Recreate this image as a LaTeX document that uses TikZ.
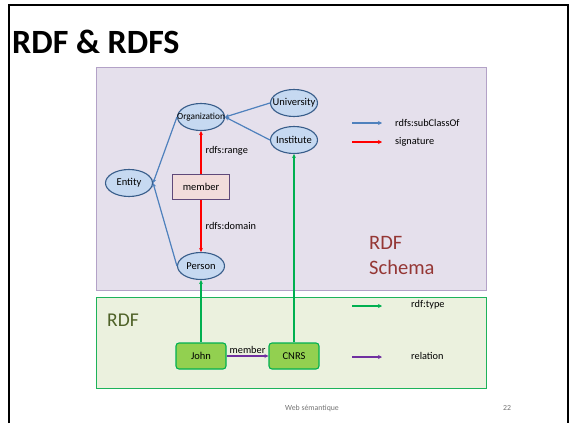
\documentclass[tikz,border=0pt]{standalone}
\usepackage{fontspec}
\setmainfont{Carlito}
\usetikzlibrary{arrows.meta,shapes.geometric}
\definecolor{schemafill}{HTML}{E5E0EC}
\definecolor{schemaline}{HTML}{B3A2C7}
\definecolor{rdffill}{HTML}{EBF1DE}
\definecolor{rdfline}{HTML}{1DB35A}
\definecolor{classfill}{HTML}{C6D9F1}
\definecolor{classline}{HTML}{385D8A}
\definecolor{propfill}{HTML}{F2DCDB}
\definecolor{propline}{HTML}{5F497A}
\definecolor{instfill}{HTML}{92D050}
\definecolor{instline}{HTML}{00B050}
\definecolor{subcl}{HTML}{4F81BD}
\definecolor{sig}{HTML}{FF0000}
\definecolor{typ}{HTML}{00B050}
\definecolor{rel}{HTML}{7030A0}
\definecolor{rdftext}{HTML}{4F6228}
\definecolor{schematext}{HTML}{953735}
\tikzset{
  cls/.style={ellipse, draw=classline, fill=classfill, line width=1.1pt,
    minimum width=47pt, minimum height=27pt, inner xsep=-8pt, inner ysep=0pt,
    font=\fontsize{10.5}{11}\selectfont},
  prop/.style={rectangle, draw=propline, fill=propfill, line width=1.1pt,
    minimum width=57pt, minimum height=25pt, inner sep=0pt, font=\fontsize{10.5}{11}\selectfont},
  inst/.style={rectangle, rounded corners=3pt, draw=instline, fill=instfill, line width=1.1pt,
    minimum width=50pt, minimum height=26pt, inner sep=0pt, font=\fontsize{10.5}{11}\selectfont},
  tip/.style={-{Stealth[length=4pt,width=4pt]}},
  subclass/.style={tip, draw=subcl, fill=subcl, line width=1.2pt},
  signat/.style={tip, draw=sig, fill=sig, line width=1.2pt},
  rdftype/.style={tip, draw=typ, fill=typ, line width=1.2pt},
  relation/.style={tip, draw=rel, fill=rel, line width=1.2pt},
  lbl/.style={font=\fontsize{10.3}{11}\selectfont, inner sep=0pt, anchor=west},
}
\begin{document}
\begin{tikzpicture}[x=1pt,y=-1pt]
\useasboundingbox (0,0) rectangle (570,423);
% slide frame
\draw[line width=2.5pt] (9,423) -- (9,5) -- (568,5) -- (568,423);
\node[anchor=west, font=\fontsize{34}{35}\selectfont\bfseries, inner sep=0pt] (title) at (12,42) {RDF \& RDFS};
% panels
\node[draw=schemaline, fill=schemafill, line width=1.2pt, minimum width=390pt, minimum height=223pt, inner sep=0pt, anchor=north west] (schema) at (96,67) {};
\node[draw=rdfline, fill=rdffill, line width=1.2pt, minimum width=390pt, minimum height=91pt, inner sep=0pt, anchor=north west] (rdf) at (96,297) {};
\node[anchor=west, text=rdftext, font=\fontsize{19.5}{20}\selectfont, inner sep=0pt] (rdflabel) at (107,320) {RDF};
\node[anchor=north west, text=schematext, font=\fontsize{20.5}{25}\selectfont, align=left, inner sep=0pt] (schemalabel) at (369,236) {RDF\\Schema};
% classes
\node[cls, font=\fontsize{9.3}{10}\selectfont] (org) at (201,117) {Organization};
\node[cls] (univ) at (294,103) {University};
\node[cls] (inst) at (294,140) {Institute};
\node[cls] (entity) at (129,183) {Entity};
\node[cls] (person) at (201,266) {Person};
\node[prop] (member) at (201,187) {member};
% instances
\node[inst] (john) at (201,356) {John};
\node[inst] (cnrs) at (294,356) {CNRS};
% subclass links
\draw[subclass] (univ.west) -- (org.east);
\draw[subclass] (inst.west) -- (org.east);
\draw[subclass] (org.west) -- (entity.east);
\draw[subclass] (person.west) -- (entity.east);
% signature of member
\draw[signat] (member.north) -- node[lbl, pos=0.55, xshift=4pt] {rdfs:range} (org.south);
\draw[signat] (member.south) -- node[lbl, pos=0.5, xshift=4pt] {rdfs:domain} (person.north);
% types
\draw[rdftype] (john.north) -- (person.south);
\draw[rdftype] (cnrs.north) -- (inst.south);
% relation
\draw[relation] (john.east) -- node[above=0.5pt, font=\fontsize{10.3}{11}\selectfont, inner sep=1pt] {member} (cnrs.west);
% legend
\coordinate (l1a) at (352,123); \coordinate (l1b) at (382,123);
\coordinate (l2a) at (352,142); \coordinate (l2b) at (382,142);
\coordinate (l3a) at (352,306); \coordinate (l3b) at (382,306);
\coordinate (l4a) at (352,357); \coordinate (l4b) at (382,357);
\draw[subclass] (l1a) -- (l1b);
\draw[signat] (l2a) -- (l2b);
\draw[rdftype] (l3a) -- (l3b);
\draw[relation] (l4a) -- (l4b);
\node[lbl] (t1) at (395,123) {rdfs:subClassOf};
\node[lbl] (t2) at (395,142) {signature};
\node[lbl] (t3) at (411,305) {rdf:type};
\node[lbl] (t4) at (411,356) {relation};
% footer
\node[font=\fontsize{7.8}{8}\selectfont, text=black!55, inner sep=0pt] (foot) at (312,408) {Web sémantique};
\node[font=\fontsize{7.8}{8}\selectfont, text=black!55, inner sep=0pt] (page) at (507,408) {22};
\end{tikzpicture}
\end{document}
